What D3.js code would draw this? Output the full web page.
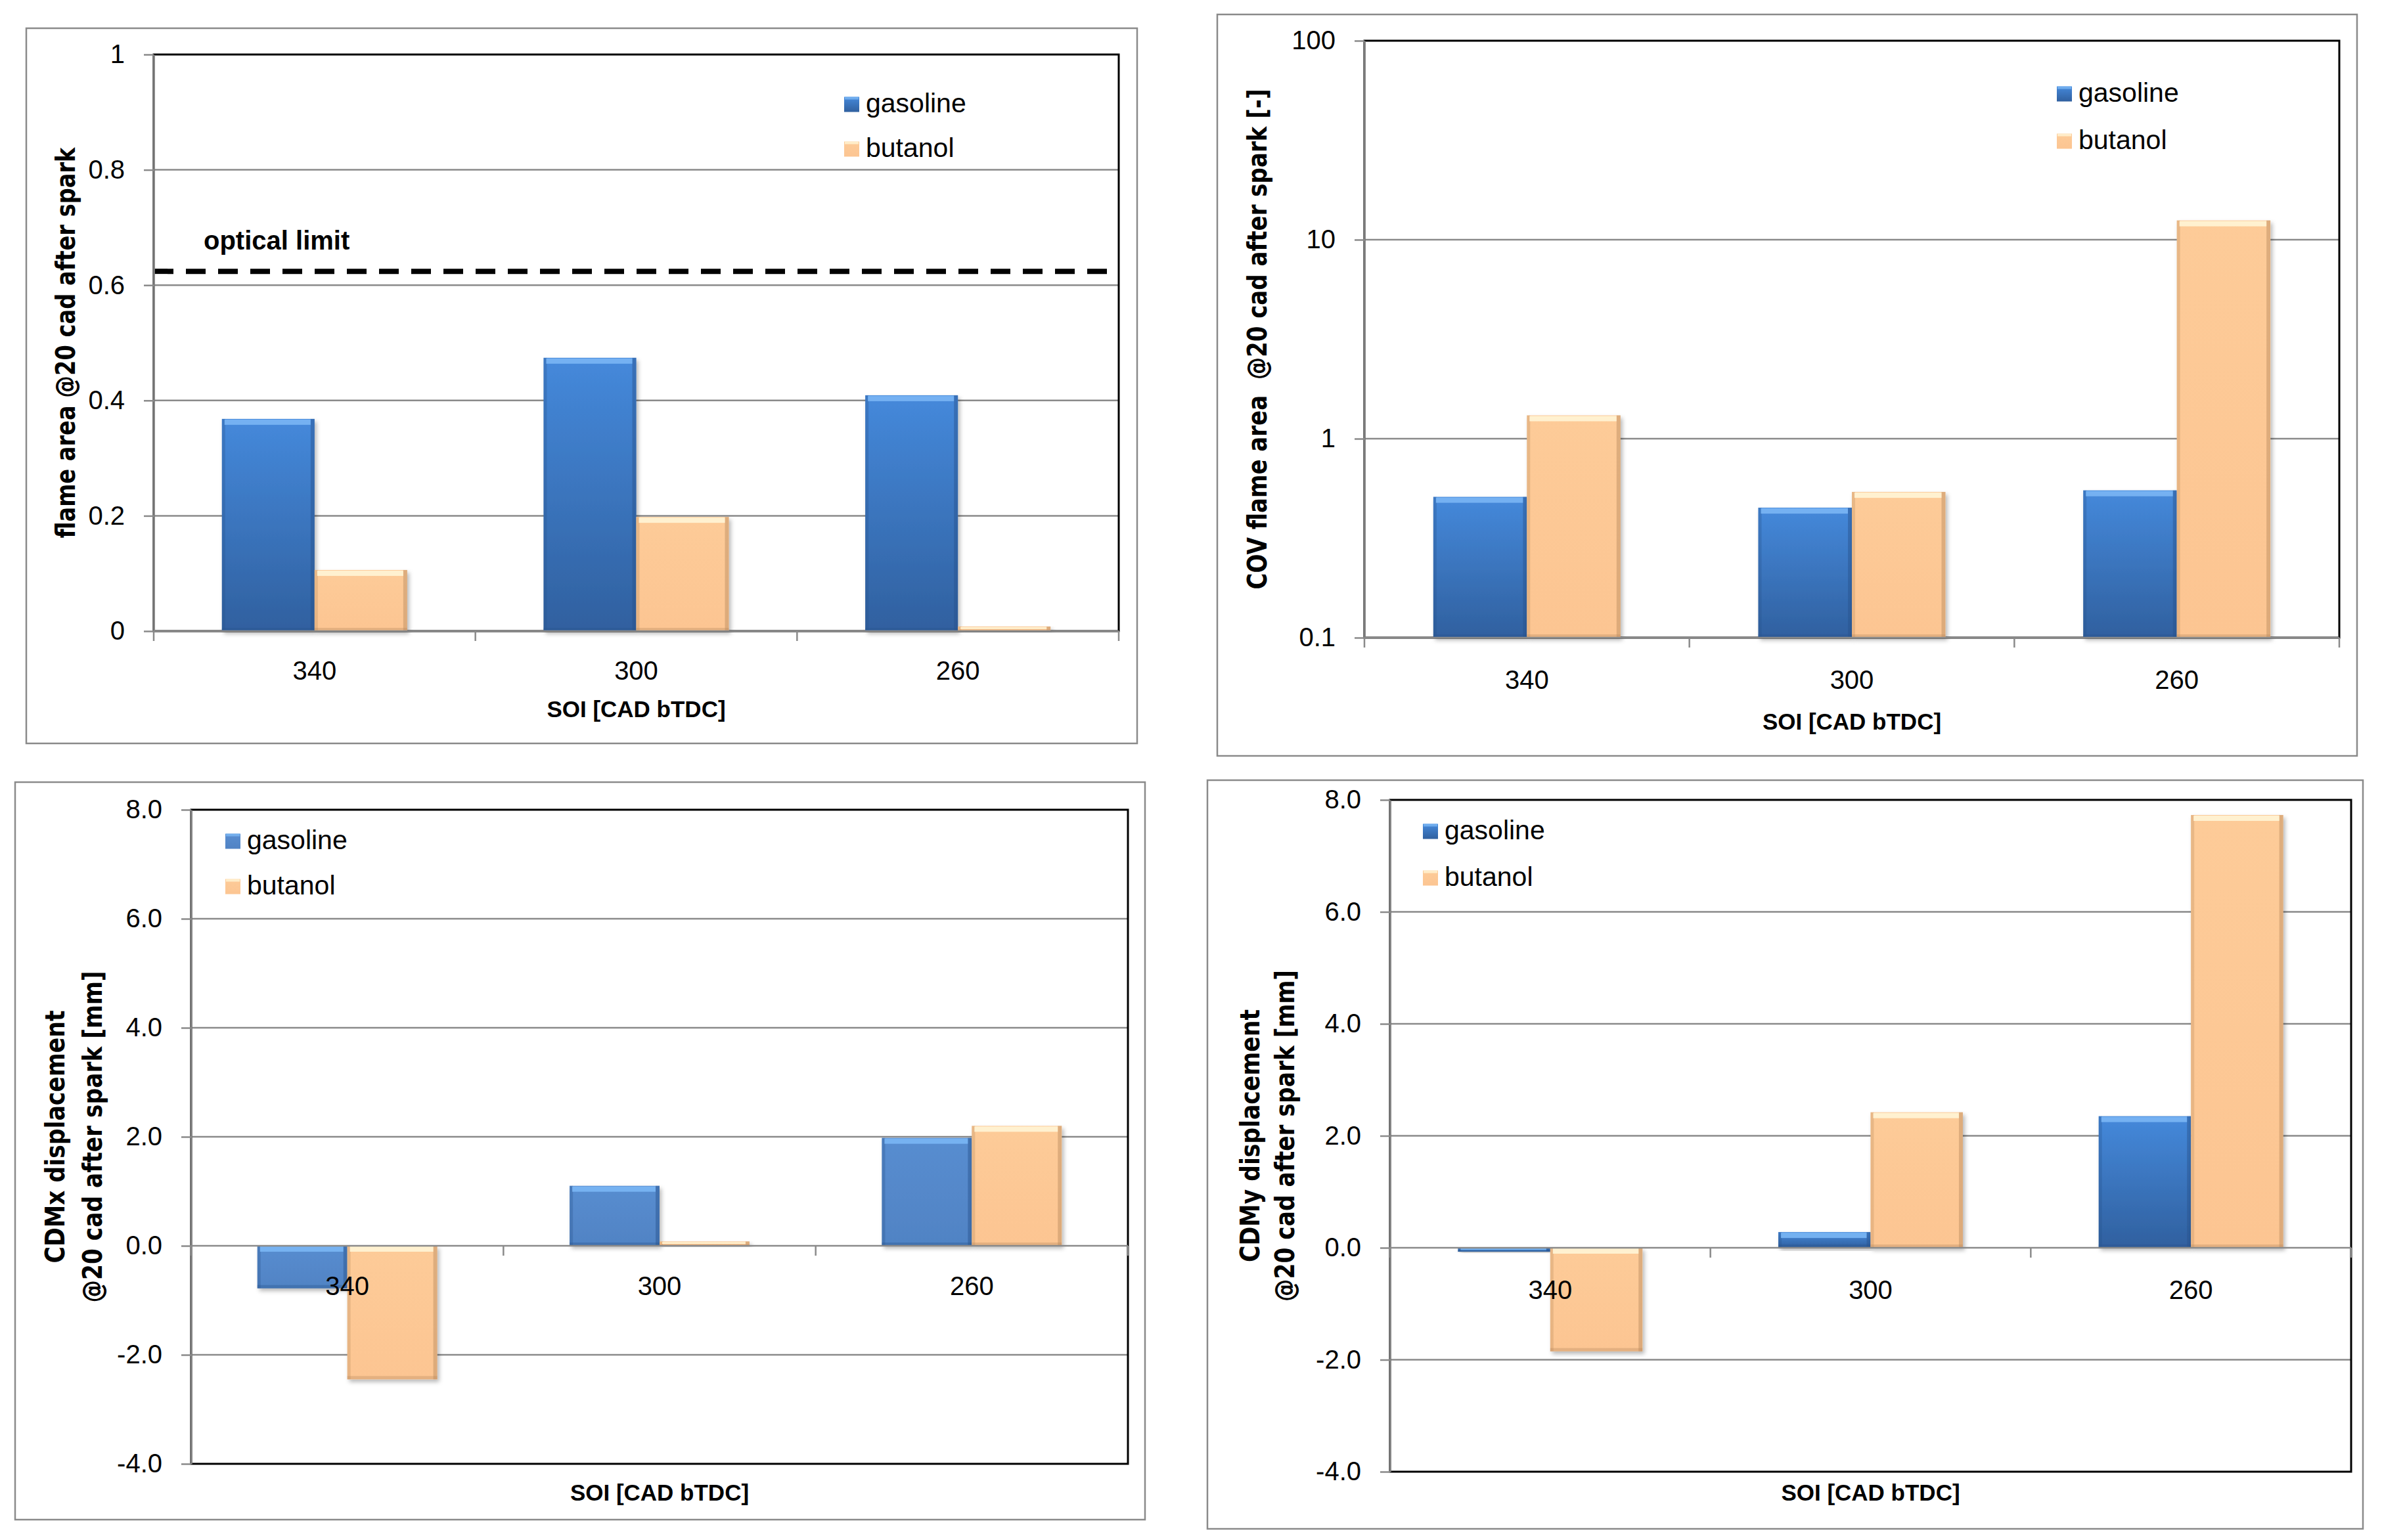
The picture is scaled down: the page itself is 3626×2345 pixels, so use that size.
<!DOCTYPE html>
<html>
<head>
<meta charset="utf-8">
<script src="https://cdn.jsdelivr.net/npm/d3@7"></script>
<style>
html, body { margin: 0; padding: 0; background: #ffffff; }
svg { display: block; }
</style>
</head>
<body>
<svg id="chart" width="3626" height="2345"></svg>
<script>
// ---------------- DATA ----------------
const categories = ["340", "300", "260"];
const seriesNames = ["gasoline", "butanol"];

const flameGasoline = [0.368, 0.474, 0.409];
const flameButanol  = [0.106, 0.198, 0.008];
const flameTicks    = [0, 0.2, 0.4, 0.6, 0.8, 1];
const opticalLimit  = 0.624;

const covGasoline = [0.51, 0.45, 0.55];
const covButanol  = [1.31, 0.54, 12.5];
const covTicks    = [0.1, 1, 10, 100];

const cdmxGasoline = [-0.78, 1.10, 1.98];
const cdmxButanol  = [-2.45, 0.08, 2.20];
const cdmyGasoline = [-0.07, 0.28, 2.35];
const cdmyButanol  = [-1.85, 2.42, 7.73];
const cdmTicks     = [-4, -2, 0, 2, 4, 6, 8];

const xTitle = "SOI [CAD bTDC]";

// ---------------- STYLE ----------------
const FONT = "'Liberation Sans', Arial, sans-serif";
const TFONT = "'DejaVu Sans', Verdana, sans-serif";
const GRAY = "#8a8a8a";

const svg = d3.select("#chart");
const defs = svg.append("defs");

function vGrad(id, stops) {
  const gr = defs.append("linearGradient").attr("id", id)
    .attr("x1", 0).attr("y1", 0).attr("x2", 0).attr("y2", 1);
  stops.forEach(s => gr.append("stop").attr("offset", s[0]).attr("stop-color", s[1]));
}
vGrad("gasGrad", [["0%", "#4589db"], ["100%", "#30609f"]]);
vGrad("gasGradFlat", [["0%", "#588dd0"], ["100%", "#5083c4"]]);
vGrad("butGrad", [["0%", "#fdcb98"], ["100%", "#fcc592"]]);

const sh = defs.append("filter").attr("id", "shadow")
  .attr("x", "-10%").attr("y", "-10%").attr("width", "130%").attr("height", "130%");
sh.append("feDropShadow").attr("dx", 3).attr("dy", 4).attr("stdDeviation", 3)
  .attr("flood-color", "#000").attr("flood-opacity", 0.28);

const bl = defs.append("filter").attr("id", "blur")
  .attr("x", "-5%").attr("y", "-100%").attr("width", "110%").attr("height", "300%");
bl.append("feGaussianBlur").attr("stdDeviation", 3);

const seriesStyle = {
  gasoline: { hi: "#7ab6f4", edge: "#27528c" },
  butanol:  { hi: "#fff5d6", edge: "#b88a5e" }
};

// ---------------- CHART ----------------
function drawChart(cfg) {
  const g = svg.append("g");
  const p = cfg.plot;

  g.append("rect")
    .attr("x", cfg.box[0]).attr("y", cfg.box[1])
    .attr("width", cfg.box[2] - cfg.box[0]).attr("height", cfg.box[3] - cfg.box[1])
    .attr("fill", "#fff").attr("stroke", GRAY).attr("stroke-width", 2.5);

  const x = d3.scaleBand().domain(categories).range([p.l, p.r]);
  const bw = x.bandwidth();
  const xs = d3.scaleBand().domain(seriesNames).range([bw * 0.212, bw * 0.788]);
  const y = (cfg.log ? d3.scaleLog() : d3.scaleLinear()).domain(cfg.domain).range([p.b, p.t]);

  // gridlines
  const gridVals = cfg.ticks.filter(t => t !== cfg.domain[0] && t !== cfg.domain[1] && t !== cfg.base);
  g.append("g").selectAll("line").data(gridVals).join("line")
    .attr("x1", p.l).attr("x2", p.r)
    .attr("y1", d => y(d)).attr("y2", d => y(d))
    .attr("stroke", GRAY).attr("stroke-width", 2.5);

  // plot area border
  g.append("rect")
    .attr("x", p.l).attr("y", p.t).attr("width", p.r - p.l).attr("height", p.b - p.t)
    .attr("fill", "none").attr("stroke", "#000").attr("stroke-width", 3);

  // extra (optical limit)
  if (cfg.extra) cfg.extra(g, x, y);

  // bars
  const y0 = y(cfg.base);
  const rows = [];
  categories.forEach((c, i) => {
    rows.push({ cat: c, s: "gasoline", v: cfg.gas[i] });
    rows.push({ cat: c, s: "butanol", v: cfg.but[i] });
  });
  const bars = g.append("g").selectAll("g").data(rows).join("g");
  const bx = d => x(d.cat) + xs(d.s);
  const bt = d => Math.min(y(d.v), y0);
  const bh = d => Math.abs(y(d.v) - y0);
  const w = xs.bandwidth();

  bars.append("rect")
    .attr("x", bx).attr("y", bt).attr("width", w).attr("height", bh)
    .attr("fill", d => d.s === "gasoline" ? `url(#${cfg.gasFill})` : "url(#butGrad)")
    .attr("filter", "url(#shadow)");
  // side / bottom darker edges
  bars.append("rect")
    .attr("x", bx).attr("y", bt).attr("width", 5).attr("height", bh)
    .attr("fill", d => seriesStyle[d.s].edge).attr("opacity", 0.3);
  bars.append("rect")
    .attr("x", d => bx(d) + w - 6).attr("y", bt).attr("width", 6).attr("height", bh)
    .attr("fill", d => seriesStyle[d.s].edge).attr("opacity", 0.45);
  bars.append("rect")
    .attr("x", bx).attr("y", d => bt(d) + bh(d) - Math.min(5, bh(d) / 3)).attr("width", w)
    .attr("height", d => Math.min(5, bh(d) / 3))
    .attr("fill", d => seriesStyle[d.s].edge).attr("opacity", 0.35);
  // top highlight
  bars.append("rect")
    .attr("x", d => bx(d) + 4).attr("y", d => bt(d) + 1).attr("width", w - 10)
    .attr("height", d => Math.min(8, bh(d) / 2.5))
    .attr("fill", d => seriesStyle[d.s].hi).attr("opacity", 0.9);

  // base axis line
  g.append("line").attr("x1", p.l).attr("x2", p.r).attr("y1", y0).attr("y2", y0)
    .attr("stroke", GRAY).attr("stroke-width", 2.5);

  // category boundary ticks
  const bounds = [p.l].concat(categories.map(c => x(c) + bw));
  g.append("g").selectAll("line").data(bounds).join("line")
    .attr("x1", d => d).attr("x2", d => d).attr("y1", y0).attr("y2", y0 + 15)
    .attr("stroke", GRAY).attr("stroke-width", 2.5);

  // category labels
  const xa = g.append("g").attr("transform", `translate(0,${y0})`)
    .call(d3.axisBottom(x).tickSize(0).tickPadding(cfg.labelPad));
  xa.select(".domain").remove();
  xa.selectAll("text").attr("font-family", FONT).attr("font-size", 40).attr("fill", "#000");

  // y axis
  const ya = g.append("g").attr("transform", `translate(${p.l},0)`)
    .call(d3.axisLeft(y).tickValues(cfg.ticks).tickFormat(cfg.fmt)
      .tickSize(15).tickSizeOuter(0).tickPadding(29));
  ya.select(".domain").attr("stroke", GRAY).attr("stroke-width", 2.5);
  ya.selectAll(".tick line").attr("stroke", GRAY).attr("stroke-width", 2.5);
  ya.selectAll("text").attr("font-family", FONT).attr("font-size", 40).attr("fill", "#000");

  // y title
  const cy = (p.t + p.b) / 2;
  cfg.yTitle.forEach(t => {
    g.append("text")
      .attr("transform", `translate(${t.x},${cy}) rotate(-90)`)
      .attr("text-anchor", "middle")
      .attr("font-family", TFONT).attr("font-weight", "bold").attr("font-size", 40)
      .attr("textLength", t.len).attr("lengthAdjust", "spacingAndGlyphs")
      .style("white-space", "pre")
      .text(t.text);
  });

  // x title
  g.append("text")
    .attr("x", (p.l + p.r) / 2).attr("y", cfg.xTitleY)
    .attr("text-anchor", "middle")
    .attr("font-family", FONT).attr("font-weight", "bold").attr("font-size", 35)
    .text(xTitle);

  // legend
  const lg = g.append("g").selectAll("g").data(seriesNames).join("g")
    .attr("transform", (d, i) => `translate(${cfg.legend.sx},${cfg.legend.ys[i]})`);
  lg.append("rect").attr("x", 0).attr("y", -11.5).attr("width", 23).attr("height", 23)
    .attr("fill", d => d === "gasoline" ? `url(#${cfg.gasFill})` : "url(#butGrad)");
  lg.append("rect").attr("x", 1).attr("y", -11.5).attr("width", 21).attr("height", 4)
    .attr("fill", d => seriesStyle[d].hi).attr("opacity", 0.8);
  lg.append("text").attr("x", 33).attr("y", 11.5)
    .attr("font-family", FONT).attr("font-size", 41).attr("fill", "#000")
    .text(d => d);
}

const fmt1 = d => d.toFixed(1);

drawChart({
  box: [40, 43, 1731, 1132],
  plot: { l: 234, r: 1703, t: 83, b: 961 },
  log: false, domain: [0, 1], base: 0, ticks: flameTicks, fmt: d => String(d),
  gas: flameGasoline, but: flameButanol, gasFill: "gasGrad",
  labelPad: 46, xTitleY: 1092,
  yTitle: [{ text: "flame area @20 cad after spark", x: 114, len: 595 }],
  legend: { sx: 1285, ys: [159, 227] },
  extra: (g, x, y) => {
    const r = x.range();
    const yl = y(opticalLimit);
    g.append("line").attr("x1", r[0]).attr("x2", r[1]).attr("y1", yl + 6).attr("y2", yl + 6)
      .attr("stroke", "#777").attr("stroke-width", 7).attr("stroke-dasharray", "30 19")
      .attr("filter", "url(#blur)").attr("opacity", 0.7);
    g.append("line").attr("x1", r[0]).attr("x2", r[1]).attr("y1", yl).attr("y2", yl)
      .attr("stroke", "#000").attr("stroke-width", 8).attr("stroke-dasharray", "30 19");
    g.append("text").attr("x", 310).attr("y", 380)
      .attr("font-family", FONT).attr("font-weight", "bold").attr("font-size", 40)
      .text("optical limit");
  }
});

drawChart({
  box: [1853, 22, 3588, 1151],
  plot: { l: 2077, r: 3561, t: 62, b: 971 },
  log: true, domain: [0.1, 100], base: 0.1, ticks: covTicks, fmt: d => String(d),
  gas: covGasoline, but: covButanol, gasFill: "gasGrad",
  labelPad: 50, xTitleY: 1111,
  yTitle: [{ text: "COV flame area  @20 cad after spark [-]", x: 1928, len: 762 }],
  legend: { sx: 3131, ys: [143, 215] }
});

drawChart({
  box: [23, 1191, 1743, 2314],
  plot: { l: 291, r: 1717, t: 1233, b: 2229 },
  log: false, domain: [-4, 8], base: 0, ticks: cdmTicks, fmt: fmt1,
  gas: cdmxGasoline, but: cdmxButanol, gasFill: "gasGradFlat",
  labelPad: 47, xTitleY: 2285,
  yTitle: [{ text: "CDMx displacement", x: 98, len: 385 },
           { text: "@20 cad after spark [mm]", x: 155, len: 505 }],
  legend: { sx: 343, ys: [1281, 1350] }
});

drawChart({
  box: [1838, 1188, 3597, 2328],
  plot: { l: 2116, r: 3579, t: 1218, b: 2241 },
  log: false, domain: [-4, 8], base: 0, ticks: cdmTicks, fmt: fmt1,
  gas: cdmyGasoline, but: cdmyButanol, gasFill: "gasGrad",
  labelPad: 50, xTitleY: 2285,
  yTitle: [{ text: "CDMy displacement", x: 1917, len: 385 },
           { text: "@20 cad after spark [mm]", x: 1970, len: 505 }],
  legend: { sx: 2166, ys: [1266, 1337] }
});
</script>
</body>
</html>
